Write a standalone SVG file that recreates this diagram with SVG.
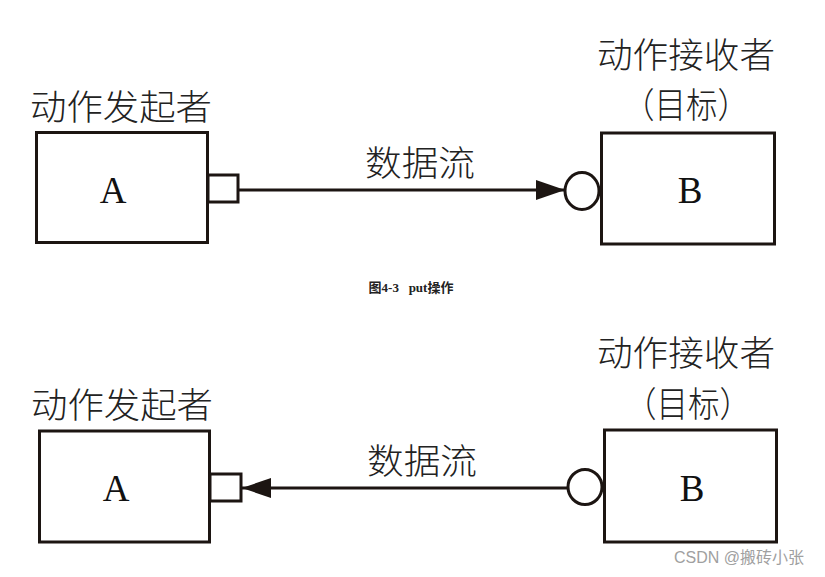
<svg xmlns="http://www.w3.org/2000/svg" width="825" height="577" viewBox="0 0 825 577">
<style>
.box{fill:#fff;stroke:#1c1512;stroke-width:3}
.port{fill:#fff;stroke:#1c1512;stroke-width:3}
.line{stroke:#1c1512;stroke-width:3;fill:none}
.lbl{font-family:"Noto Sans CJK SC",sans-serif;font-size:35px;fill:#222;text-anchor:middle;dominant-baseline:central;font-weight:300}
.let{font-family:"Liberation Serif",serif;font-size:37px;fill:#111;text-anchor:middle;dominant-baseline:central}
.cap{font-family:"Liberation Serif","Noto Sans CJK SC",serif;font-size:13px;font-weight:bold;fill:#222;text-anchor:middle;dominant-baseline:central}
.wm{font-family:"Liberation Sans","Noto Sans CJK SC",sans-serif;font-size:16px;fill:#a0a0a0;text-anchor:middle;dominant-baseline:central}
</style>
<defs>
<marker id="ah" markerUnits="userSpaceOnUse" markerWidth="30" markerHeight="22" refX="29" refY="10" orient="auto" viewBox="0 0 30 20">
<path d="M0,0 L29,10 L0,20 Z" fill="#1c1512"/>
</marker>
</defs>
<rect width="825" height="577" fill="#fff"/>
<g id="connectors">
<line class="line" x1="239" y1="190" x2="565" y2="190" marker-end="url(#ah)"/>
<line class="line" x1="567" y1="488" x2="242" y2="488" marker-end="url(#ah)"/>
</g>
<g id="top-A">
<rect class="box" x="36.5" y="132.5" width="171" height="110"/>
<rect class="port" x="208" y="175" width="30" height="27"/>
<text class="let" x="113" y="190">A</text>
<text class="lbl" x="121" y="104" textLength="182" lengthAdjust="spacingAndGlyphs">动作发起者</text>
</g>
<g id="top-B">
<rect class="box" x="601.5" y="133" width="173" height="111"/>
<ellipse class="port" cx="582" cy="191" rx="17" ry="18.5"/>
<text class="let" x="690" y="190">B</text>
<text class="lbl" x="686" y="52" textLength="178" lengthAdjust="spacingAndGlyphs">动作接收者</text>
<text class="lbl" x="686" y="102" textLength="126" lengthAdjust="spacingAndGlyphs">（目标）</text>
</g>
<text class="lbl" x="420" y="160" textLength="110" lengthAdjust="spacingAndGlyphs">数据流</text>
<text class="cap" x="411" y="287" xml:space="preserve">图4-3   put操作</text>
<g id="bottom-A">
<rect class="box" x="39.5" y="431" width="170" height="111"/>
<rect class="port" x="210" y="474" width="31" height="27"/>
<text class="let" x="116" y="488">A</text>
<text class="lbl" x="122" y="402" textLength="182" lengthAdjust="spacingAndGlyphs">动作发起者</text>
</g>
<g id="bottom-B">
<rect class="box" x="604.5" y="430" width="172" height="112"/>
<ellipse class="port" cx="585" cy="487" rx="17" ry="17.5"/>
<text class="let" x="692" y="488">B</text>
<text class="lbl" x="686" y="350" textLength="178" lengthAdjust="spacingAndGlyphs">动作接收者</text>
<text class="lbl" x="688" y="401" textLength="126" lengthAdjust="spacingAndGlyphs">（目标）</text>
</g>
<text class="lbl" x="422" y="458" textLength="110" lengthAdjust="spacingAndGlyphs">数据流</text>
<text class="wm" x="739" y="557">CSDN @搬砖小张</text>
</svg>
